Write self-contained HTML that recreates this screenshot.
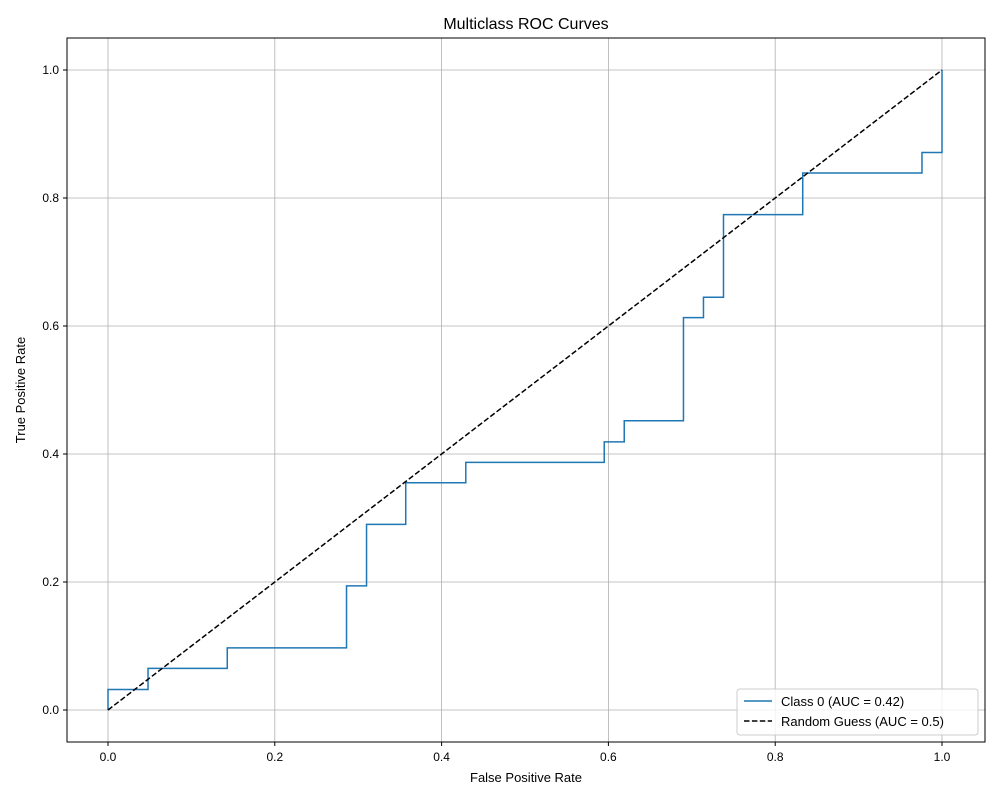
<!DOCTYPE html>
<html><head><meta charset="utf-8"><style>
body{margin:0;background:#fff;}
svg text{font-family:"Liberation Sans","DejaVu Sans",sans-serif;fill:#000;}
</style></head><body>
<svg id="chart" width="1000" height="800" xmlns="http://www.w3.org/2000/svg">
<rect width="1000" height="800" fill="#fff"/>
<g id="grid"></g>
<g id="ticks"></g>
<g id="series"></g>
<rect x="67" y="38" width="918" height="704" fill="none" stroke="#000" stroke-width="1"/>
<text x="526" y="29" font-size="16" text-anchor="middle">Multiclass ROC Curves</text>
<text x="526" y="782" font-size="13" text-anchor="middle">False Positive Rate</text>
<text x="25" y="390" font-size="13" text-anchor="middle" transform="rotate(-90 25 390)">True Positive Rate</text>
<g>
<rect x="737" y="689" width="241" height="46" rx="3" fill="#fff" fill-opacity="0.8" stroke="#ccc"/>
<g>
<line x1="744" y1="701" x2="772" y2="701" stroke="#1f77b4" stroke-width="1.5"/>
<text x="781" y="706" font-size="13">Class 0 (AUC = 0.42)</text>
</g>
<g>
<line x1="744" y1="721" x2="772" y2="721" stroke="#000" stroke-width="1.5" stroke-dasharray="5.5,2.4"/>
<text x="781" y="726" font-size="13">Random Guess (AUC = 0.5)</text>
</g>
</g>
</svg>
<script>
const fpr = [0,0,0.048,0.048,0.143,0.143,0.286,0.286,0.310,0.310,0.357,0.357,0.429,0.429,0.595,0.595,0.619,0.619,0.690,0.690,0.714,0.714,0.738,0.738,0.833,0.833,0.976,0.976,1,1];
const tpr = [0,0.032,0.032,0.065,0.065,0.097,0.097,0.194,0.194,0.290,0.290,0.355,0.355,0.387,0.387,0.419,0.419,0.452,0.452,0.613,0.613,0.645,0.645,0.774,0.774,0.839,0.839,0.871,0.871,1];
const diagX = [0,1];
const diagY = [0,1];
const xTicks = [0,0.2,0.4,0.6,0.8,1.0];
const yTicks = [0,0.2,0.4,0.6,0.8,1.0];
const xTickLabels = ["0.0","0.2","0.4","0.6","0.8","1.0"];
const yTickLabels = ["0.0","0.2","0.4","0.6","0.8","1.0"];

const NS="http://www.w3.org/2000/svg";
function sx(v){return 108+v*834;}
function sy(v){return 710-v*640;}
function mk(tag,attrs,parent){const e=document.createElementNS(NS,tag);for(const k in attrs)e.setAttribute(k,attrs[k]);parent.appendChild(e);return e;}
const grid=document.getElementById('grid'),ticks=document.getElementById('ticks'),series=document.getElementById('series');
xTicks.forEach((t,i)=>{
  const g=mk('line',{x1:sx(t),x2:sx(t),y1:38,y2:742,stroke:'#b0b0b0','stroke-width':0.8},grid);
  
  
  mk('line',{x1:sx(t),x2:sx(t),y1:742,y2:746,stroke:'#000'},ticks);
  const tx=mk('text',{x:sx(t),y:761,'font-size':12,'text-anchor':'middle'},ticks);
  tx.textContent=xTickLabels[i];
  
  
});
yTicks.forEach((t,i)=>{
  const g=mk('line',{x1:67,x2:985,y1:sy(t),y2:sy(t),stroke:'#b0b0b0','stroke-width':0.8},grid);
  
  
  mk('line',{x1:63,x2:67,y1:sy(t),y2:sy(t),stroke:'#000'},ticks);
  const tx=mk('text',{x:59,y:sy(t)+4,'font-size':12,'text-anchor':'end'},ticks);
  tx.textContent=yTickLabels[i];
  
  
});
const roc=mk('polyline',{points:fpr.map((v,i)=>sx(v)+','+sy(tpr[i])).join(' '),fill:'none',stroke:'#1f77b4','stroke-width':1.5},series);


const diag=mk('polyline',{points:diagX.map((v,i)=>sx(v)+','+sy(diagY[i])).join(' '),fill:'none',stroke:'#000','stroke-width':1.5,'stroke-dasharray':'5.5,2.4'},series);


</script>
</body></html>
